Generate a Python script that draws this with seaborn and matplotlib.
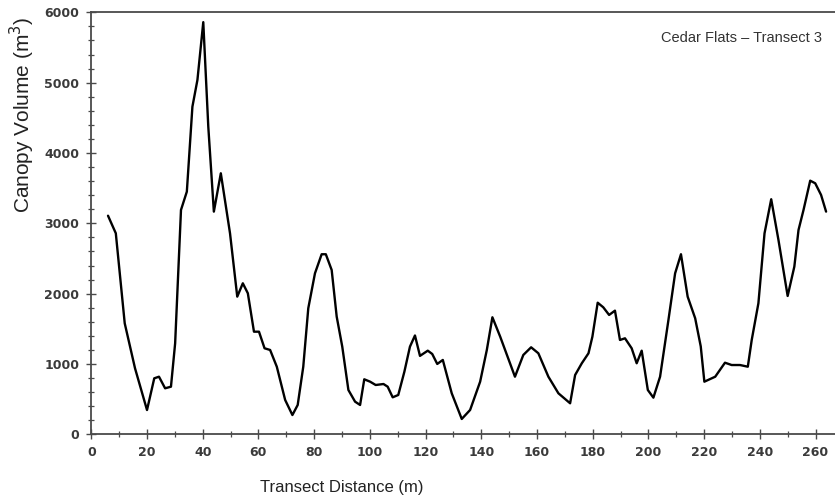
import matplotlib
matplotlib.use("Agg")
import matplotlib.pyplot as plt
from matplotlib.ticker import MultipleLocator
import seaborn as sns
import pandas as pd

# ---- data ----
distance_m = [6, 8.8, 12, 15.7, 20, 22.6, 24.3, 26.5, 28.6, 30.1, 32.2, 34.3, 36.3, 38.1,
              40.2, 42, 44, 46.5, 49.8, 52.4, 54.4, 56.2, 58.4, 60.2, 62.2, 64.2, 66.6,
              69.6, 72.2, 74.1, 76.1, 77.9, 80.3, 82.7, 84.2, 86.3, 88.1, 90.1, 92.3,
              94.7, 96.5, 98, 100.1, 102.1, 104.9, 106.4, 108.2, 110.2, 112.4, 114.4,
              116.2, 118, 120.8, 122.4, 124.2, 126.2, 129.4, 133, 136, 139.6, 142, 144,
              146.8, 152.1, 155.1, 157.9, 160.5, 164.1, 167.7, 171.9, 173.7, 176.1,
              178.5, 179.9, 181.8, 183.8, 185.9, 188, 189.8, 191.6, 194, 195.8, 197.6,
              199.8, 201.8, 204.2, 207.2, 209.6, 211.7, 214.1, 216.8, 218.8, 220.1, 224,
              227.5, 229.9, 232.9, 235.7, 237.1, 239.5, 241.7, 244.1, 246.7, 250, 252.4,
              253.9, 255.7, 258.1, 259.9, 262, 263.8]
canopy_volume = [3108, 2858, 1578, 938, 345, 796, 819, 654, 677, 1294, 3190, 3450, 4658,
                 5038, 5860, 4374, 3166, 3711, 2858, 1957, 2147, 2005, 1459, 1459, 1223,
                 1199, 961, 488, 274, 417, 961, 1792, 2289, 2560, 2560, 2336, 1673, 1246,
                 630, 464, 417, 782, 748, 701, 715, 677, 526, 559, 890, 1246, 1405, 1115,
                 1189, 1142, 1000, 1057, 583, 218, 346, 748, 1199, 1664, 1388, 819, 1128,
                 1237, 1152, 819, 583, 441, 843, 1010, 1152, 1388, 1871, 1806, 1697, 1758,
                 1341, 1365, 1223, 1010, 1189, 630, 521, 819, 1625, 2289, 2560, 1957, 1650,
                 1250, 748, 819, 1018, 985, 985, 961, 1341, 1863, 2858, 3342, 2763, 1967,
                 2384, 2905, 3190, 3606, 3569, 3403, 3166]
x_ticks = [0, 20, 40, 60, 80, 100, 120, 140, 160, 180, 200, 220, 240, 260]
y_ticks = [0, 1000, 2000, 3000, 4000, 5000, 6000]
x_label = "Transect Distance (m)"
y_label = "Canopy Volume (m$^3$)"
annotation = "Cedar Flats \u2013 Transect 3"

df = pd.DataFrame({"distance": distance_m, "volume": canopy_volume})

sns.set_theme(style="white")
plt.rcParams["font.family"] = ["Liberation Sans", "DejaVu Sans"]

fig = plt.figure(figsize=(8.35, 4.99), dpi=100)
ax = fig.add_axes([91.3 / 835, 1 - 434.3 / 499, 1 - 91.3 / 835, (434.3 - 12.3) / 499])

sns.lineplot(data=df, x="distance", y="volume", ax=ax, color="black",
             linewidth=1.7, sort=False, estimator=None)

ax.set_xlim(0, 267)
ax.set_ylim(0, 6000)
ax.set_xticks(x_ticks)
ax.set_yticks(y_ticks)
ax.xaxis.set_minor_locator(MultipleLocator(10))
ax.yaxis.set_minor_locator(MultipleLocator(200))

for side in ["left", "bottom", "top"]:
    ax.spines[side].set_color("#4a4a4a")
    ax.spines[side].set_linewidth(1.3)
ax.spines["right"].set_visible(False)

ax.tick_params(which="major", direction="inout", length=7.5, width=1.0, color="#4a4a4a",
               labelsize=9, labelcolor="#3a3a3a", pad=5, bottom=True, left=True)
ax.tick_params(which="minor", direction="inout", length=5, width=0.9, color="#4a4a4a",
               bottom=True, left=True)
for lab in ax.get_xticklabels() + ax.get_yticklabels():
    lab.set_fontfamily(["DejaVu Sans"])
    lab.set_fontweight("bold")

ax.set_xlabel(x_label, fontsize=12, color="#222222")
ax.set_ylabel(y_label, fontsize=15, color="#222222")
ax.xaxis.label.set_va("center")
ax.yaxis.label.set_va("center")
ax.xaxis.set_label_coords(0.337, -0.127)
ax.yaxis.set_label_coords(-0.092, 0.757)

ax.text(0.9825, 0.939, annotation, transform=ax.transAxes, ha="right", va="center",
        fontsize=10.5, color="#333333")

fig.savefig("out.png", dpi=100, facecolor="white")
